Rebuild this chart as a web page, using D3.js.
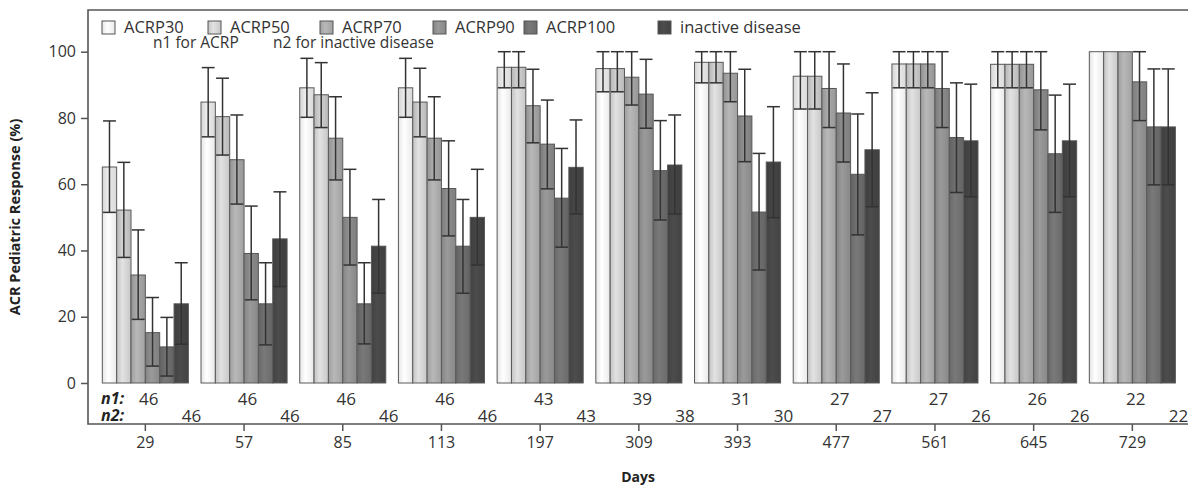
<!DOCTYPE html>
<html>
<head>
<meta charset="utf-8">
<script src="https://cdn.jsdelivr.net/npm/d3@7"></script>
<style>
  body { margin: 0; background: #fff; }
  svg { display: block; font-family: "Open Sans", sans-serif; }
</style>
</head>
<body>
<div id="canvas"></div>
<script>
const days = ["29", "57", "85", "113", "197", "309", "393", "477", "561", "645", "729"];
const seriesNames = ["ACRP30", "ACRP50", "ACRP70", "ACRP90", "ACRP100", "inactive disease"];

const acrp30 = [65.2, 84.8, 89.1, 89.1, 95.3, 94.9, 96.8, 92.6, 96.3, 96.2, 100];
const acrp30Hi = [79.1, 95.2, 98.0, 98.0, 100, 100, 100, 100, 100, 100, 100];
const acrp30Lo = [51.5, 74.3, 80.2, 80.2, 89.1, 87.9, 90.6, 82.7, 89.1, 89.1, 100];

const acrp50 = [52.2, 80.4, 87.0, 84.8, 95.3, 94.9, 96.8, 92.6, 96.3, 96.2, 100];
const acrp50Hi = [66.6, 92.0, 96.7, 95.0, 100, 100, 100, 100, 100, 100, 100];
const acrp50Lo = [37.9, 68.8, 77.1, 74.3, 89.1, 87.9, 90.6, 82.7, 89.1, 89.1, 100];

const acrp70 = [32.6, 67.4, 73.9, 73.9, 83.7, 92.3, 93.5, 88.9, 96.3, 96.2, 100];
const acrp70Hi = [46.2, 80.9, 86.4, 86.4, 94.7, 100, 100, 100, 100, 100, 100];
const acrp70Lo = [19.2, 54.0, 61.3, 61.3, 72.5, 83.9, 84.9, 77.1, 89.1, 89.1, 100];

const acrp90 = [15.2, 39.1, 50.0, 58.7, 72.1, 87.2, 80.6, 81.5, 88.9, 88.5, 90.9];
const acrp90Hi = [25.8, 53.4, 64.5, 73.1, 85.4, 97.7, 94.7, 96.3, 100, 100, 100];
const acrp90Lo = [5.1, 25.1, 35.6, 44.4, 58.6, 76.9, 66.8, 66.7, 77.1, 76.4, 79.2];

const acrp100 = [10.9, 23.9, 23.9, 41.3, 55.8, 64.1, 51.6, 63.0, 74.1, 69.2, 77.3];
const acrp100Hi = [19.8, 36.3, 36.3, 55.4, 70.8, 79.2, 69.3, 81.2, 90.6, 86.9, 94.8];
const acrp100Lo = [2.1, 11.5, 11.8, 27.1, 41.0, 49.2, 34.1, 44.7, 57.5, 51.5, 59.8];

const inactive = [23.9, 43.5, 41.3, 50.0, 65.1, 65.8, 66.7, 70.4, 73.1, 73.1, 77.3];
const inactiveHi = [36.3, 57.7, 55.4, 64.5, 79.4, 80.9, 83.4, 87.6, 90.2, 90.2, 94.8];
const inactiveLo = [11.7, 29.1, 27.1, 35.6, 51.0, 51.0, 49.9, 53.2, 56.2, 56.2, 59.8];

const n1 = [46, 46, 46, 46, 43, 39, 31, 27, 27, 26, 22];
const n2 = [46, 46, 46, 46, 43, 38, 30, 27, 26, 26, 22];
const yTicks = [0, 20, 40, 60, 80, 100];

const values = [acrp30, acrp50, acrp70, acrp90, acrp100, inactive];
const highs = [acrp30Hi, acrp50Hi, acrp70Hi, acrp90Hi, acrp100Hi, inactiveHi];
const lows = [acrp30Lo, acrp50Lo, acrp70Lo, acrp90Lo, acrp100Lo, inactiveLo];

const colors = ["#f6f6f6", "#d2d2d2", "#ababab", "#8f8f8f", "#717171", "#474747"];

const width = 1188;
const height = 487;
const frame = { left: 88, top: 10, bottom: 424 };

const svg = d3.select("#canvas").append("svg")
    .attr("width", width)
    .attr("height", height);

// gradients for the bar skin
const defs = svg.append("defs");
colors.forEach((c, i) => {
    const grad = defs.append("linearGradient")
        .attr("id", "g" + i)
        .attr("x1", "0").attr("x2", "1").attr("y1", "0").attr("y2", "0");
    grad.append("stop").attr("offset", "0%").attr("stop-color", d3.color(c).darker(0.2));
    grad.append("stop").attr("offset", "40%").attr("stop-color", d3.color(c).brighter(0.2));
    grad.append("stop").attr("offset", "100%").attr("stop-color", d3.color(c).darker(0.15));
});

const x = d3.scaleBand()
    .domain(days)
    .range([96, 1181.7])
    .paddingInner(0.128)
    .paddingOuter(0.064);

const xs = d3.scaleBand()
    .domain(seriesNames)
    .range([0, x.bandwidth()]);

const y = d3.scaleLinear()
    .domain([0, 100])
    .range([383, 51.7]);

const rows = [];
days.forEach((d, i) => {
    seriesNames.forEach((s, j) => {
        rows.push({ day: d, s: s, j: j, v: values[j][i], hi: highs[j][i], lo: lows[j][i] });
    });
});

const g = svg.append("g");

g.selectAll("rect.bar").data(rows).enter().append("rect")
    .attr("class", "bar")
    .attr("x", (d) => x(d.day) + xs(d.s))
    .attr("y", (d) => y(d.v))
    .attr("width", xs.bandwidth())
    .attr("height", (d) => y(0) - y(d.v))
    .attr("fill", (d) => `url(#g${d.j})`)
    .attr("stroke", "#5a5a5a")
    .attr("stroke-width", 1);

// slight shade over the part of each bar above its lower limit
g.selectAll("rect.shade").data(rows.filter((d) => d.lo < d.v)).enter().append("rect")
    .attr("class", "shade")
    .attr("x", (d) => x(d.day) + xs(d.s) + 0.5)
    .attr("y", (d) => y(d.v))
    .attr("width", xs.bandwidth() - 1)
    .attr("height", (d) => y(d.lo) - y(d.v))
    .attr("fill", "rgba(0,0,0,0.07)");

// error bars
const cap = xs.bandwidth() * 0.45;
const eb = g.selectAll("g.err").data(rows.filter((d) => d.hi > d.lo)).enter().append("g")
    .attr("class", "err")
    .attr("stroke", "#333")
    .attr("stroke-width", 1.5);
const cx = (d) => x(d.day) + xs(d.s) + xs.bandwidth() / 2;
eb.append("line")
    .attr("x1", cx).attr("x2", cx)
    .attr("y1", (d) => y(d.hi)).attr("y2", (d) => y(d.lo));
eb.append("line")
    .attr("x1", (d) => cx(d) - cap).attr("x2", (d) => cx(d) + cap)
    .attr("y1", (d) => y(d.hi)).attr("y2", (d) => y(d.hi));
eb.append("line")
    .attr("x1", (d) => cx(d) - cap).attr("x2", (d) => cx(d) + cap)
    .attr("y1", (d) => y(d.lo)).attr("y2", (d) => y(d.lo));

// frame
svg.append("path")
    .attr("d", `M${width},${frame.top}H${frame.left}V${frame.bottom}H${width}`)
    .attr("fill", "none")
    .attr("stroke", "#555")
    .attr("stroke-width", 1.6);

// axes
const yAxis = svg.append("g")
    .attr("transform", `translate(${frame.left},0)`)
    .call(d3.axisLeft(y).tickValues(yTicks).tickSize(7).tickPadding(5));
yAxis.select(".domain").remove();

const xAxis = svg.append("g")
    .attr("transform", `translate(0,${frame.bottom})`)
    .call(d3.axisBottom(x).tickSize(7).tickPadding(6));
xAxis.select(".domain").remove();

[yAxis, xAxis].forEach((a) => {
    a.selectAll("line").attr("stroke", "#555").attr("stroke-width", 1.5);
    a.selectAll("text").attr("font-size", 16).attr("fill", "#333")
        .attr("font-family", "'Open Sans', sans-serif");
});

// sample size rows
svg.append("g").selectAll("text").data(days).enter().append("text")
    .attr("x", (d) => x(d) + x.bandwidth() / 2 + 3.5)
    .attr("y", 405)
    .attr("text-anchor", "middle")
    .attr("font-size", 17)
    .attr("fill", "#333")
    .text((d, i) => n1[i]);

svg.append("g").selectAll("text").data(days).enter().append("text")
    .attr("x", (d) => x(d) + x.bandwidth() + 3)
    .attr("y", 422)
    .attr("text-anchor", "middle")
    .attr("font-size", 17)
    .attr("fill", "#333")
    .text((d, i) => n2[i]);

svg.append("text").attr("x", 101).attr("y", 404)
    .attr("font-size", 16).attr("font-weight", "bold").attr("font-style", "italic")
    .attr("fill", "#222").text("n1:");
svg.append("text").attr("x", 101).attr("y", 421)
    .attr("font-size", 16).attr("font-weight", "bold").attr("font-style", "italic")
    .attr("fill", "#222").text("n2:");

// axis titles
svg.append("text")
    .attr("x", 638).attr("y", 482)
    .attr("text-anchor", "middle")
    .attr("font-size", 14).attr("font-weight", "bold").attr("fill", "#222")
    .text("Days");

svg.append("text")
    .attr("transform", "translate(20,217) rotate(-90)")
    .attr("text-anchor", "middle")
    .attr("font-size", 14.5).attr("font-weight", "bold").attr("fill", "#222")
    .text("ACR Pediatric Response (%)");

// legend
const legendX = [102, 208, 320, 433, 524, 658];
const leg = svg.append("g").selectAll("g").data(seriesNames).enter().append("g")
    .attr("transform", (d, i) => `translate(${legendX[i]},21)`);
leg.append("rect")
    .attr("width", 13).attr("height", 13)
    .attr("fill", (d, i) => `url(#g${i})`)
    .attr("stroke", "#555");
leg.append("text")
    .attr("x", 22).attr("y", 11.5)
    .attr("font-size", 16.5).attr("fill", "#333")
    .text((d) => d);

svg.append("text").attr("x", 153).attr("y", 48)
    .attr("font-size", 15.5).attr("fill", "#333").text("n1 for ACRP");
svg.append("text").attr("x", 273).attr("y", 48)
    .attr("font-size", 15.5).attr("fill", "#333").text("n2 for inactive disease");
</script>
</body>
</html>
